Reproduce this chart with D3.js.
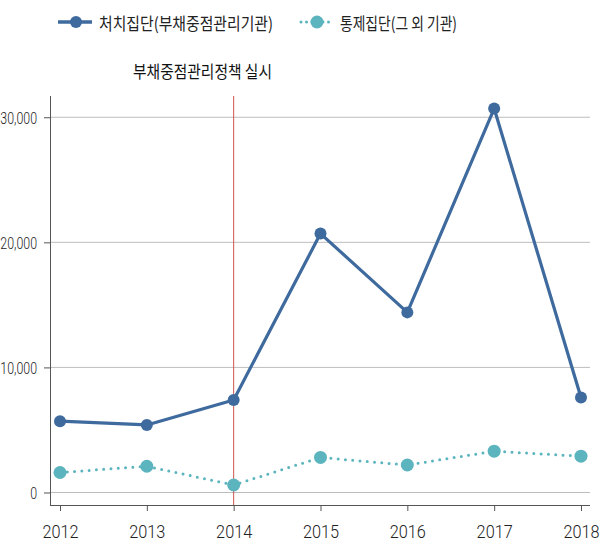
<!DOCTYPE html>
<html>
<head>
<meta charset="utf-8">
<script src="https://cdn.jsdelivr.net/npm/d3@7"></script>
<style>
  body { margin: 0; background: #fff; }
  svg text { fill: #222; }
  .kr { font-family: "Noto Sans CJK KR", "Noto Sans", sans-serif; }
  .num { font-family: Roboto, "Liberation Sans", sans-serif; }
</style>
</head>
<body>
<svg id="chart"></svg>
<script>
// data
const years = [2012, 2013, 2014, 2015, 2016, 2017, 2018];
const treated = [5700, 5400, 7400, 20700, 14400, 30700, 7600];
const control = [1600, 2100, 600, 2800, 2200, 3300, 2900];
const yTicks = [0, 10000, 20000, 30000];
const seriesNames = ["처치집단(부채중점관리기관)", "통제집단(그 외 기관)"];
const policyYear = 2014;
const policyLabel = "부채중점관리정책 실시";

const width = 600, height = 555;
const blue = "#3e6a9e", teal = "#5bb4be";

const svg = d3.select("#chart")
    .attr("width", width)
    .attr("height", height);

const x = d3.scaleLinear().domain([2012, 2018]).range([60, 581]);
const y = d3.scaleLinear().domain([-1000, 31700]).range([505, 96]);

// gridlines
svg.append("g")
    .selectAll("line")
    .data(yTicks)
    .join("line")
    .attr("x1", 50).attr("x2", 590)
    .attr("y1", d => y(d)).attr("y2", d => y(d))
    .attr("stroke", "#bdbdbd")
    .attr("stroke-width", 1);

// policy line
svg.append("line")
    .attr("x1", x(policyYear)).attr("x2", x(policyYear))
    .attr("y1", 96).attr("y2", 505)
    .attr("stroke", "#d0524d")
    .attr("stroke-width", 1);

svg.append("text")
    .attr("class", "kr")
    .attr("x", 133).attr("y", 78)
    .attr("font-size", 17)
    .attr("textLength", 139)
    .attr("lengthAdjust", "spacingAndGlyphs")
    .style("fill", "#111")
    .text(policyLabel);

// axes
const xAxis = svg.append("g")
    .attr("transform", "translate(0,505)")
    .call(d3.axisBottom(x).tickValues(years).tickFormat(d3.format("d")).tickSize(6).tickSizeOuter(0));
xAxis.select(".domain").attr("d", "M50,0.5H590");
xAxis.selectAll(".tick text")
    .attr("class", "num")
    .attr("font-size", 18.5)
    .attr("font-weight", 300)
    .attr("y", 0).attr("dy", 0)
    .attr("transform", "translate(0,33) scale(0.88,1)")
    .style("fill", "#222");

const yAxis = svg.append("g")
    .attr("transform", "translate(50,0)")
    .call(d3.axisLeft(y).tickValues(yTicks).tickFormat(d3.format(",")).tickSize(6).tickSizeOuter(0));
yAxis.select(".domain").attr("d", "M0.5,96V505");
yAxis.selectAll(".tick text")
    .attr("class", "num")
    .attr("font-size", 16.5)
    .attr("font-weight", 300)
    .attr("x", 0)
    .attr("dy", "0.36em")
    .attr("transform", "translate(-13,0) scale(0.75,1)")
    .style("fill", "#222");
svg.selectAll(".domain, .tick line").attr("stroke", "#555");

// lines
const line = d3.line().x((d, i) => x(years[i])).y(d => y(d));

svg.append("path")
    .datum(control)
    .attr("d", line)
    .attr("fill", "none")
    .attr("stroke", teal)
    .attr("stroke-width", 3)
    .attr("stroke-linecap", "round")
    .attr("stroke-dasharray", "0 7.3");

svg.append("g")
    .selectAll("circle")
    .data(control)
    .join("circle")
    .attr("cx", (d, i) => x(years[i]))
    .attr("cy", d => y(d))
    .attr("r", 6.5)
    .attr("fill", teal);

svg.append("path")
    .datum(treated)
    .attr("d", line)
    .attr("fill", "none")
    .attr("stroke", blue)
    .attr("stroke-width", 3.2)
    .attr("stroke-linejoin", "round");

svg.append("g")
    .selectAll("circle")
    .data(treated)
    .join("circle")
    .attr("cx", (d, i) => x(years[i]))
    .attr("cy", d => y(d))
    .attr("r", 6)
    .attr("fill", blue);

// legend
const lg = svg.append("g");
lg.append("line")
    .attr("x1", 58).attr("x2", 92).attr("y1", 22).attr("y2", 22)
    .attr("stroke", blue).attr("stroke-width", 3.5);
lg.append("circle").attr("cx", 76).attr("cy", 22).attr("r", 6).attr("fill", blue);
lg.append("text")
    .attr("class", "kr")
    .attr("x", 99).attr("y", 30)
    .attr("font-size", 17)
    .attr("textLength", 174)
    .attr("lengthAdjust", "spacingAndGlyphs")
    .text(seriesNames[0]);

lg.append("line")
    .attr("x1", 301).attr("x2", 332).attr("y1", 22).attr("y2", 22)
    .attr("stroke", teal).attr("stroke-width", 3)
    .attr("stroke-linecap", "round")
    .attr("stroke-dasharray", "0 5.5");
lg.append("circle").attr("cx", 317).attr("cy", 22).attr("r", 6.5).attr("fill", teal);
lg.append("text")
    .attr("class", "kr")
    .attr("x", 340).attr("y", 30)
    .attr("font-size", 17)
    .attr("textLength", 117)
    .attr("lengthAdjust", "spacingAndGlyphs")
    .text(seriesNames[1]);
</script>
</body>
</html>
